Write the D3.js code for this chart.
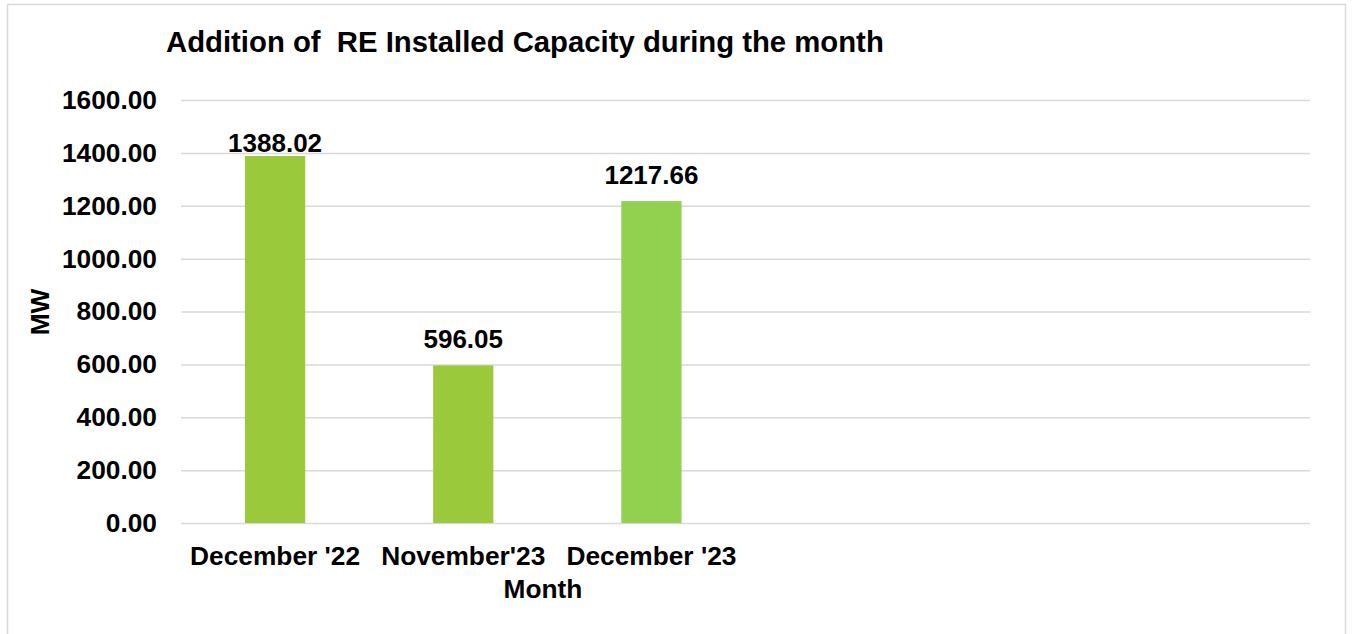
<!DOCTYPE html>
<html>
<head>
<meta charset="utf-8">
<script src="https://cdn.jsdelivr.net/npm/d3@7"></script>
<style>
  body { margin: 0; background: #fff; }
  text { font-family: "Liberation Sans", Arial, sans-serif; font-weight: bold; fill: #000; }
</style>
</head>
<body>
<div id="chart-area"></div>
<script>
// chart data (the source sheet has 6 category slots, last 3 empty)
const months = ["December '22", "November'23", "December '23", "", "", ""];
const values = [1388.02, 596.05, 1217.66, null, null, null];
const barColors = ["#9ACA3C", "#9ACA3C", "#92D050"];
const yTicks = [0, 200, 400, 600, 800, 1000, 1200, 1400, 1600];

const width = 1352;
const height = 634;
const margin = { top: 100, right: 42, bottom: 111, left: 181 };
const innerW = width - margin.left - margin.right;
const innerH = height - margin.top - margin.bottom;
const fs = "26.3px";

const svg = d3.select("#chart-area")
    .append("svg")
    .attr("width", width)
    .attr("height", height);

// outer border
svg.append("rect")
    .attr("x", 7.5).attr("y", 4.5)
    .attr("width", 1338).attr("height", 640)
    .attr("fill", "none")
    .attr("stroke", "#d9d9d9")
    .attr("stroke-width", 1.5);

svg.append("text")
    .attr("x", 166)
    .attr("y", 52)
    .attr("font-size", "29.3px")
    .style("white-space", "pre")
    .attr("xml:space", "preserve")
    .text("Addition of  RE Installed Capacity during the month");

const g = svg.append("g")
    .attr("transform", `translate(${margin.left}, ${margin.top})`);

const x = d3.scaleBand()
    .domain(d3.range(months.length))
    .range([0, innerW])
    .paddingInner(0.68)
    .paddingOuter(0.34);

const y = d3.scaleLinear()
    .domain([0, 1600])
    .range([innerH, 0]);

// gridlines
g.append("g")
    .call(d3.axisLeft(y).tickValues(yTicks).tickSize(-innerW).tickFormat(""))
    .call(a => a.select(".domain").remove())
    .call(a => a.selectAll("line").attr("stroke", "#d9d9d9").attr("stroke-width", 1.5));

// y tick labels
g.append("g")
    .attr("transform", "translate(-24,0)")
    .call(d3.axisLeft(y).tickValues(yTicks).tickSize(0).tickPadding(0).tickFormat(d3.format(".2f")))
    .call(a => a.select(".domain").remove())
    .call(a => a.selectAll("text")
        .attr("font-size", fs)
        .attr("font-family", "Liberation Sans, Arial, sans-serif")
        .attr("font-weight", "bold")
        .attr("fill", "#000"));

// x category labels
g.append("g")
    .attr("transform", `translate(0, ${innerH})`)
    .call(d3.axisBottom(x).tickSize(0).tickPadding(0).tickFormat(i => months[i]))
    .call(a => a.select(".domain").remove())
    .call(a => a.selectAll("text")
        .attr("y", 42)
        .attr("dy", 0)
        .attr("font-size", fs)
        .attr("font-family", "Liberation Sans, Arial, sans-serif")
        .attr("font-weight", "bold")
        .attr("fill", "#000"));

const data = values.map((v, i) => ({ i, v })).filter(d => d.v != null);

g.selectAll("rect.bar")
    .data(data)
    .enter().append("rect")
    .attr("class", "bar")
    .attr("x", d => x(d.i))
    .attr("width", x.bandwidth())
    .attr("y", d => y(d.v))
    .attr("height", d => innerH - y(d.v))
    .attr("fill", d => barColors[d.i]);

// value labels, kept inside the plot area
g.selectAll("text.val")
    .data(data)
    .enter().append("text")
    .attr("class", "val")
    .attr("x", d => x(d.i) + x.bandwidth() / 2)
    .attr("y", d => Math.max(y(d.v) - 17.5, y(1400) - 1))
    .attr("text-anchor", "middle")
    .attr("font-size", "26px")
    .text(d => d.v.toFixed(2));

// axis titles
svg.append("text")
    .attr("x", 543)
    .attr("y", 598)
    .attr("text-anchor", "middle")
    .attr("font-size", fs)
    .text("Month");

svg.append("text")
    .attr("transform", "translate(49, 312) rotate(-90)")
    .attr("text-anchor", "middle")
    .attr("font-size", fs)
    .text("MW");
</script>
</body>
</html>
